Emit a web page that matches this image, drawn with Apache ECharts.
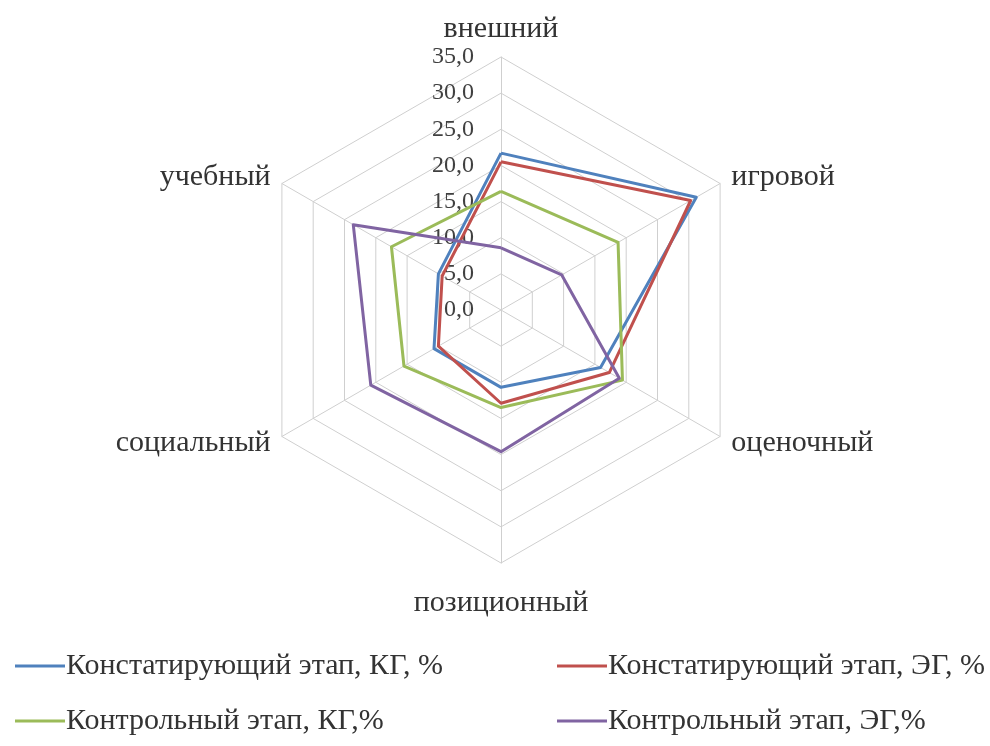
<!DOCTYPE html>
<html>
<head>
<meta charset="utf-8">
<script src="https://cdn.jsdelivr.net/npm/echarts@6/dist/echarts.min.js"></script>
<style>
  html, body { margin: 0; padding: 0; background: #fff; }
  #chart { width: 990px; height: 746px; }
</style>
</head>
<body>
<div id="chart"></div>
<script>
// categories in the picture's clockwise order, starting at the top
const categories = ['внешний', 'игровой', 'оценочный', 'позиционный', 'социальный', 'учебный']
const seriesNames = [
  'Констатирующий этап, КГ, %',
  'Констатирующий этап, ЭГ, %',
  'Контрольный этап, КГ,%',
  'Контрольный этап, ЭГ,%',
]
const konstKG = [21.7, 31.2, 15.9, 10.7, 10.7, 10.0]
const konstEG = [20.5, 30.3, 17.3, 12.9, 10.0, 9.4]
const kontrKG = [16.4, 18.7, 19.4, 13.5, 15.5, 17.5]
const kontrEG = [8.6, 9.7, 18.9, 19.6, 20.8, 23.6]
const axisMax = 35
const colors = ['#4F81BD', '#C0504D', '#9BBB59', '#8064A2']

// echarts lays indicators out counter-clockwise, the picture goes clockwise
const order = [0, 5, 4, 3, 2, 1]
const reorder = arr => order.map(i => arr[i])

const myChart = echarts.init(document.getElementById('chart'))
const font = '"Liberation Serif", "Times New Roman", serif'

const indicator = reorder(categories).map((name, i) => {
  const ind = { name: name, max: axisMax, min: 0 }
  if (i === 0) ind.axisLabel = { show: true }
  return ind
})

const allData = [konstKG, konstEG, kontrKG, kontrEG]

const legends = seriesNames.map((name, i) => ({
  data: [name],
  left: i % 2 === 0 ? 10 : 552,
  top: i < 2 ? 646 : 701,
  itemWidth: 50,
  itemHeight: 3,
  itemGap: 0,
  icon: 'rect',
  textStyle: { fontFamily: font, fontSize: 30, color: '#333333', padding: [0, 0, 0, -4] },
}))

const options = {
  animation: false,
  legend: legends,
  radar: {
    center: [501, 310],
    radius: 253,
    startAngle: 90,
    shape: 'polygon',
    splitNumber: 7,
    indicator: indicator,
    axisName: {
      color: '#333333',
      fontFamily: font,
      fontSize: 30,
      padding: [12, 0, 0, 0],
    },
    nameGap: 13,
    axisLine: { lineStyle: { color: '#CFCFCF', width: 1 } },
    splitLine: { lineStyle: { color: '#CFCFCF', width: 1 } },
    splitArea: { show: false },
    axisLabel: {
      show: false,
      color: '#404040',
      fontFamily: font,
      fontSize: 24,
      margin: 27,
      formatter: v => v.toFixed(1).replace('.', ','),
    },
  },
  series: [
    {
      type: 'radar',
      symbol: 'none',
      data: allData.map((arr, i) => ({
        name: seriesNames[i],
        value: reorder(arr),
        lineStyle: { color: colors[i], width: 3 },
        itemStyle: { color: colors[i] },
      })),
    },
  ],
}

myChart.setOption(options)
</script>
</body>
</html>
